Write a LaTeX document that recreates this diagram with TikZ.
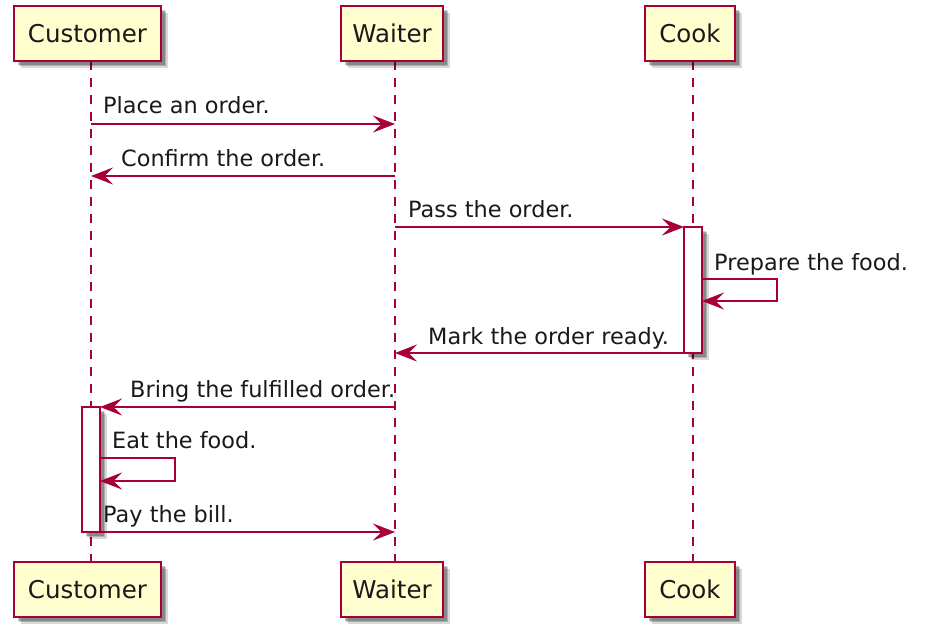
\documentclass[tikz,border=0pt]{standalone}
\usepackage{fontspec}
\setmainfont{DejaVu Sans}
\usetikzlibrary{arrows.meta,shadows}
\definecolor{umlred}{HTML}{A80036}
\definecolor{umlfill}{HTML}{FEFECE}
\tikzset{
  softshadow/.style={
    drop shadow={shadow xshift=6.5pt, shadow yshift=-6.5pt, opacity=0.15, fill=black},
    drop shadow={shadow xshift=5pt, shadow yshift=-5pt, opacity=0.2, fill=black},
    drop shadow={shadow xshift=3.5pt, shadow yshift=-3.5pt, opacity=0.22, fill=black}},
  part/.style={draw=umlred, fill=umlfill, line width=2.2pt, minimum height=55pt,
    inner sep=0pt, outer sep=0pt, font=\fontsize{24.5}{29}\selectfont, text=black!90,
    softshadow},
  actbar/.style={draw=umlred, fill=white, line width=1.6pt, minimum width=18pt,
    inner sep=0pt, outer sep=0pt, softshadow},
  life/.style={draw=umlred, line width=1.4pt, dash pattern=on 9pt off 8pt},
  msg/.style={draw=umlred, line width=1.6pt, -{Stealth[length=22pt,width=17pt,inset=8.5pt]}},
  lbl/.style={anchor=base west, inner sep=0pt, font=\fontsize{22.4}{27}\selectfont, text=black!90}
}
\begin{document}
\begin{tikzpicture}[x=1pt,y=-1pt]
\useasboundingbox (0,0) rectangle (931,633);
% lifeline end points
\coordinate (cT) at (91,61);  \coordinate (cB) at (91,562);
\coordinate (wT) at (395,61); \coordinate (wB) at (395,562);
\coordinate (kT) at (693,61); \coordinate (kB) at (693,562);
\draw[life] (cT) -- (cB);
\draw[life] (wT) -- (wB);
\draw[life] (kT) -- (kB);
% participants
\node[part, minimum width=147pt] (cust1) at (87.5,33.5) {Customer};
\node[part, minimum width=102pt] (wait1) at (392,33.5) {Waiter};
\node[part, minimum width=90pt] (cook1) at (690,33.5) {Cook};
\node[part, minimum width=147pt] (cust2) at (87.5,589.5) {Customer};
\node[part, minimum width=102pt] (wait2) at (392,589.5) {Waiter};
\node[part, minimum width=90pt] (cook2) at (690,589.5) {Cook};
% activation bars
\node[actbar, minimum height=126pt] (kact) at (693,290) {};
\node[actbar, minimum height=125pt] (cact) at (91,469.5) {};
% message coordinates
\coordinate (m1a) at (91,124);  \coordinate (m1b) at (395,124);
\coordinate (m2a) at (395,176); \coordinate (m2b) at (91,176);
\coordinate (m3a) at (395,227);
\coordinate (m5a) at (702,279); \coordinate (m5b) at (777,279);
\coordinate (m5c) at (777,301); \coordinate (m5d) at (702,301);
\coordinate (m6b) at (395,353);
\coordinate (m7a) at (395,407);
\coordinate (m9a) at (100,458); \coordinate (m9b) at (175,458);
\coordinate (m9c) at (175,481); \coordinate (m9d) at (100,481);
\coordinate (m10b) at (395,532);
% messages
\draw[msg] (m1a) -- (m1b);
\node[lbl] (l1) at (103,113) {Place an order.};
\draw[msg] (m2a) -- (m2b);
\node[lbl] (l2) at (121,166) {Confirm the order.};
\draw[msg] (m3a) -- (kact.north west);
\node[lbl] (l3) at (408,217) {Pass the order.};
\draw[msg] (m5a) -- (m5b) -- (m5c) -- (m5d);
\node[lbl] (l5) at (714,270) {Prepare the food.};
\draw[msg] (kact.south west) -- (m6b);
\node[lbl] (l6) at (428,344) {Mark the order ready.};
\draw[msg] (m7a) -- (cact.north east);
\node[lbl] (l7) at (130,397) {Bring the fulfilled order.};
\draw[msg] (m9a) -- (m9b) -- (m9c) -- (m9d);
\node[lbl] (l9) at (112,448) {Eat the food.};
\draw[msg] (cact.south east) -- (m10b);
\node[lbl] (l10) at (103,522) {Pay the bill.};
\end{tikzpicture}
\end{document}
